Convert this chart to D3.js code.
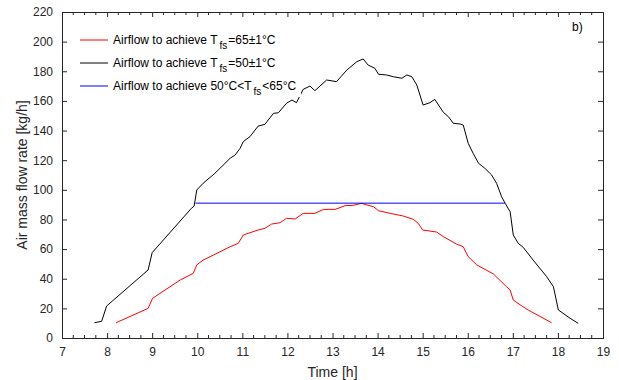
<!DOCTYPE html>
<html>
<head>
<meta charset="utf-8">
<script src="https://cdn.jsdelivr.net/npm/d3@7"></script>
<style>
  body { margin: 0; background: #fff; }
  svg { display: block; font-family: "Liberation Sans", Arial, sans-serif; }
  .tick text { fill: #262626; font-size: 12px; }
</style>
</head>
<body>
<svg width="619" height="380"></svg>
<script>
// time [h] and air mass flow rate [kg/h]
const tBlack = [7.72, 7.88, 7.99, 8.91, 9.0, 9.87, 9.93, 9.99, 10.13, 10.39, 10.73, 10.84, 10.95, 11.02, 11.17, 11.35,
  11.5, 11.69, 11.8, 11.98, 12.1, 12.2, 12.28, 12.35, 12.5, 12.61, 12.87, 13.09, 13.32, 13.54, 13.68, 13.79,
  13.94, 14.02, 14.2, 14.35, 14.54, 14.65, 14.76, 14.87, 15.01, 15.16, 15.27, 15.46, 15.57, 15.68, 15.83, 15.9,
  16.01, 16.12, 16.24, 16.38, 16.53, 16.64, 16.75, 16.83, 16.94, 17.01, 17.12, 17.23, 17.45, 17.75, 17.9, 18.01,
  18.27, 18.45];
const vBlack = [10.3, 11.3, 21.6, 45.9, 57.6, 87.5, 89, 99.9, 104.4, 111.1, 121.3, 123.5, 128, 132.5, 135.9, 143,
  144.2, 151.6, 152, 158.4, 160.6, 158.8, 163.5, 167.8, 170, 166.9, 174.1, 173, 180.9, 186.5, 188.3, 184.2,
  182, 178, 177.5, 176.3, 175.3, 177.5, 176.3, 170.7, 157.2, 158.8, 161, 152.3, 149.4, 144.9, 144.4, 143.7,
  131.4, 124.6, 117.9, 114.5, 110, 104.4, 95.4, 90.9, 85.2, 69.5, 63.9, 61.2, 52.6, 41.4, 34.6, 18.9,
  13.3, 9.9];

const tRed = [8.2, 8.91, 9.01, 9.62, 9.91, 9.99, 10.13, 10.36, 10.73, 10.91, 11.02, 11.35, 11.5, 11.65, 11.84, 11.98,
  12.17, 12.35, 12.61, 12.8, 13.06, 13.28, 13.45, 13.65, 13.76, 13.91, 14.02, 14.28, 14.57, 14.79, 14.9, 15.0,
  15.31, 15.46, 15.75, 15.9, 16.01, 16.2, 16.57, 16.86, 16.94, 17.01, 17.2, 17.34, 17.86];
const vRed = [10.3, 20, 26.8, 39.1, 43.6, 49.3, 52.6, 56, 61.6, 63.9, 69.5, 72.9, 74, 76.9, 77.8, 80.8,
  80.3, 84.1, 84.1, 86.8, 86.8, 89.3, 89.5, 90.9, 89.8, 88.6, 85.9, 84.1, 82.3, 80.1, 77.4, 72.9,
  71.5, 68.4, 63.4, 61.6, 54.9, 49.3, 43.2, 34.6, 32.4, 25.6, 21.6, 18.9, 10.3];

const tBlue = [9.96, 16.83];
const vBlue = [91, 91];

const xTicks = d3.range(7, 20, 1);
const yTicks = d3.range(0, 221, 20);

const margin = { left: 62, right: 16, top: 12, bottom: 42 };
const W = 619, H = 380;
const svg = d3.select("svg");

const x = d3.scaleLinear().domain([7, 19]).range([margin.left, W - margin.right]);
const y = d3.scaleLinear().domain([0, 220]).range([H - margin.bottom, margin.top]);

const axisColor = "#262626";

// bottom axis with labels
svg.append("g")
    .attr("transform", "translate(0," + y(0) + ")")
    .call(d3.axisBottom(x).tickValues(xTicks).tickSize(-5).tickPadding(9).tickFormat(d3.format("d")));
// minor x ticks bottom and top
const minor = d3.range(7, 19.001, 0.25).filter(d => Math.abs(d - Math.round(d)) > 1e-6);
svg.append("g").selectAll("line").data(minor).enter().append("line")
    .attr("x1", d => x(d)).attr("x2", d => x(d))
    .attr("y1", y(0)).attr("y2", y(0) - 3)
    .attr("stroke", axisColor);
svg.append("g").selectAll("line").data(minor).enter().append("line")
    .attr("x1", d => x(d)).attr("x2", d => x(d))
    .attr("y1", y(220)).attr("y2", y(220) + 3)
    .attr("stroke", axisColor);
svg.append("g")
    .attr("transform", "translate(0," + y(220) + ")")
    .call(d3.axisTop(x).tickValues(xTicks).tickSize(-5).tickFormat(""));

svg.append("g")
    .attr("transform", "translate(" + x(7) + ",0)")
    .call(d3.axisLeft(y).tickValues(yTicks).tickSize(-5).tickPadding(9).tickFormat(d3.format("d")));
svg.append("g")
    .attr("transform", "translate(" + x(19) + ",0)")
    .call(d3.axisRight(y).tickValues(yTicks).tickSize(-5).tickFormat(""));

svg.selectAll(".domain").attr("stroke", axisColor);
svg.selectAll(".tick line").attr("stroke", axisColor);

// series
function drawLine(ts, vs, color) {
    const pts = ts.map((t, i) => [t, vs[i]]);
    svg.append("path")
        .datum(pts)
        .attr("fill", "none")
        .attr("stroke", color)
        .attr("stroke-width", 1)
        .attr("stroke-linejoin", "round")
        .attr("d", d3.line().x(d => x(d[0])).y(d => y(d[1])));
}
drawLine(tBlack, vBlack, "#000000");
drawLine(tRed, vRed, "#ff0000");
drawLine(tBlue, vBlue, "#0000ff");

// legend
const legend = [
    { color: "#ff0000", pre: "Airflow to achieve T", post: "=65\u00b11\u00b0C" },
    { color: "#000000", pre: "Airflow to achieve T", post: "=50\u00b11\u00b0C" },
    { color: "#0000ff", pre: "Airflow to achieve 50\u00b0C<T", post: "<65\u00b0C" }
];
const lg = svg.append("g");
lg.append("rect").attr("x", 76).attr("y", 28).attr("width", 225).attr("height", 69).attr("fill", "#fff");
legend.forEach((d, i) => {
    const yy = 40 + i * 23;
    lg.append("line").attr("x1", 80).attr("x2", 108).attr("y1", yy).attr("y2", yy)
        .attr("stroke", d.color).attr("stroke-width", 1);
    const txt = lg.append("text").attr("x", 113).attr("y", yy + 4)
        .attr("font-size", 12).attr("fill", "#000");
    txt.append("tspan").text(d.pre);
    txt.append("tspan").attr("dx", 2).attr("dy", 5).attr("font-size", 10).text("fs");
    txt.append("tspan").attr("dx", 1).attr("dy", -5).text(d.post);
});

// panel label
svg.append("text").attr("x", 572).attr("y", 31).attr("font-size", 12).attr("fill", "#000").text("b)");

// axis titles
svg.append("text")
    .attr("x", x(13)).attr("y", 377)
    .attr("text-anchor", "middle").attr("font-size", 14).attr("fill", axisColor)
    .text("Time [h]");
svg.append("text")
    .attr("transform", "translate(27," + y(110) + ") rotate(-90)")
    .attr("text-anchor", "middle").attr("font-size", 14).attr("fill", axisColor)
    .text("Air mass flow rate [kg/h]");
</script>
</body>
</html>
